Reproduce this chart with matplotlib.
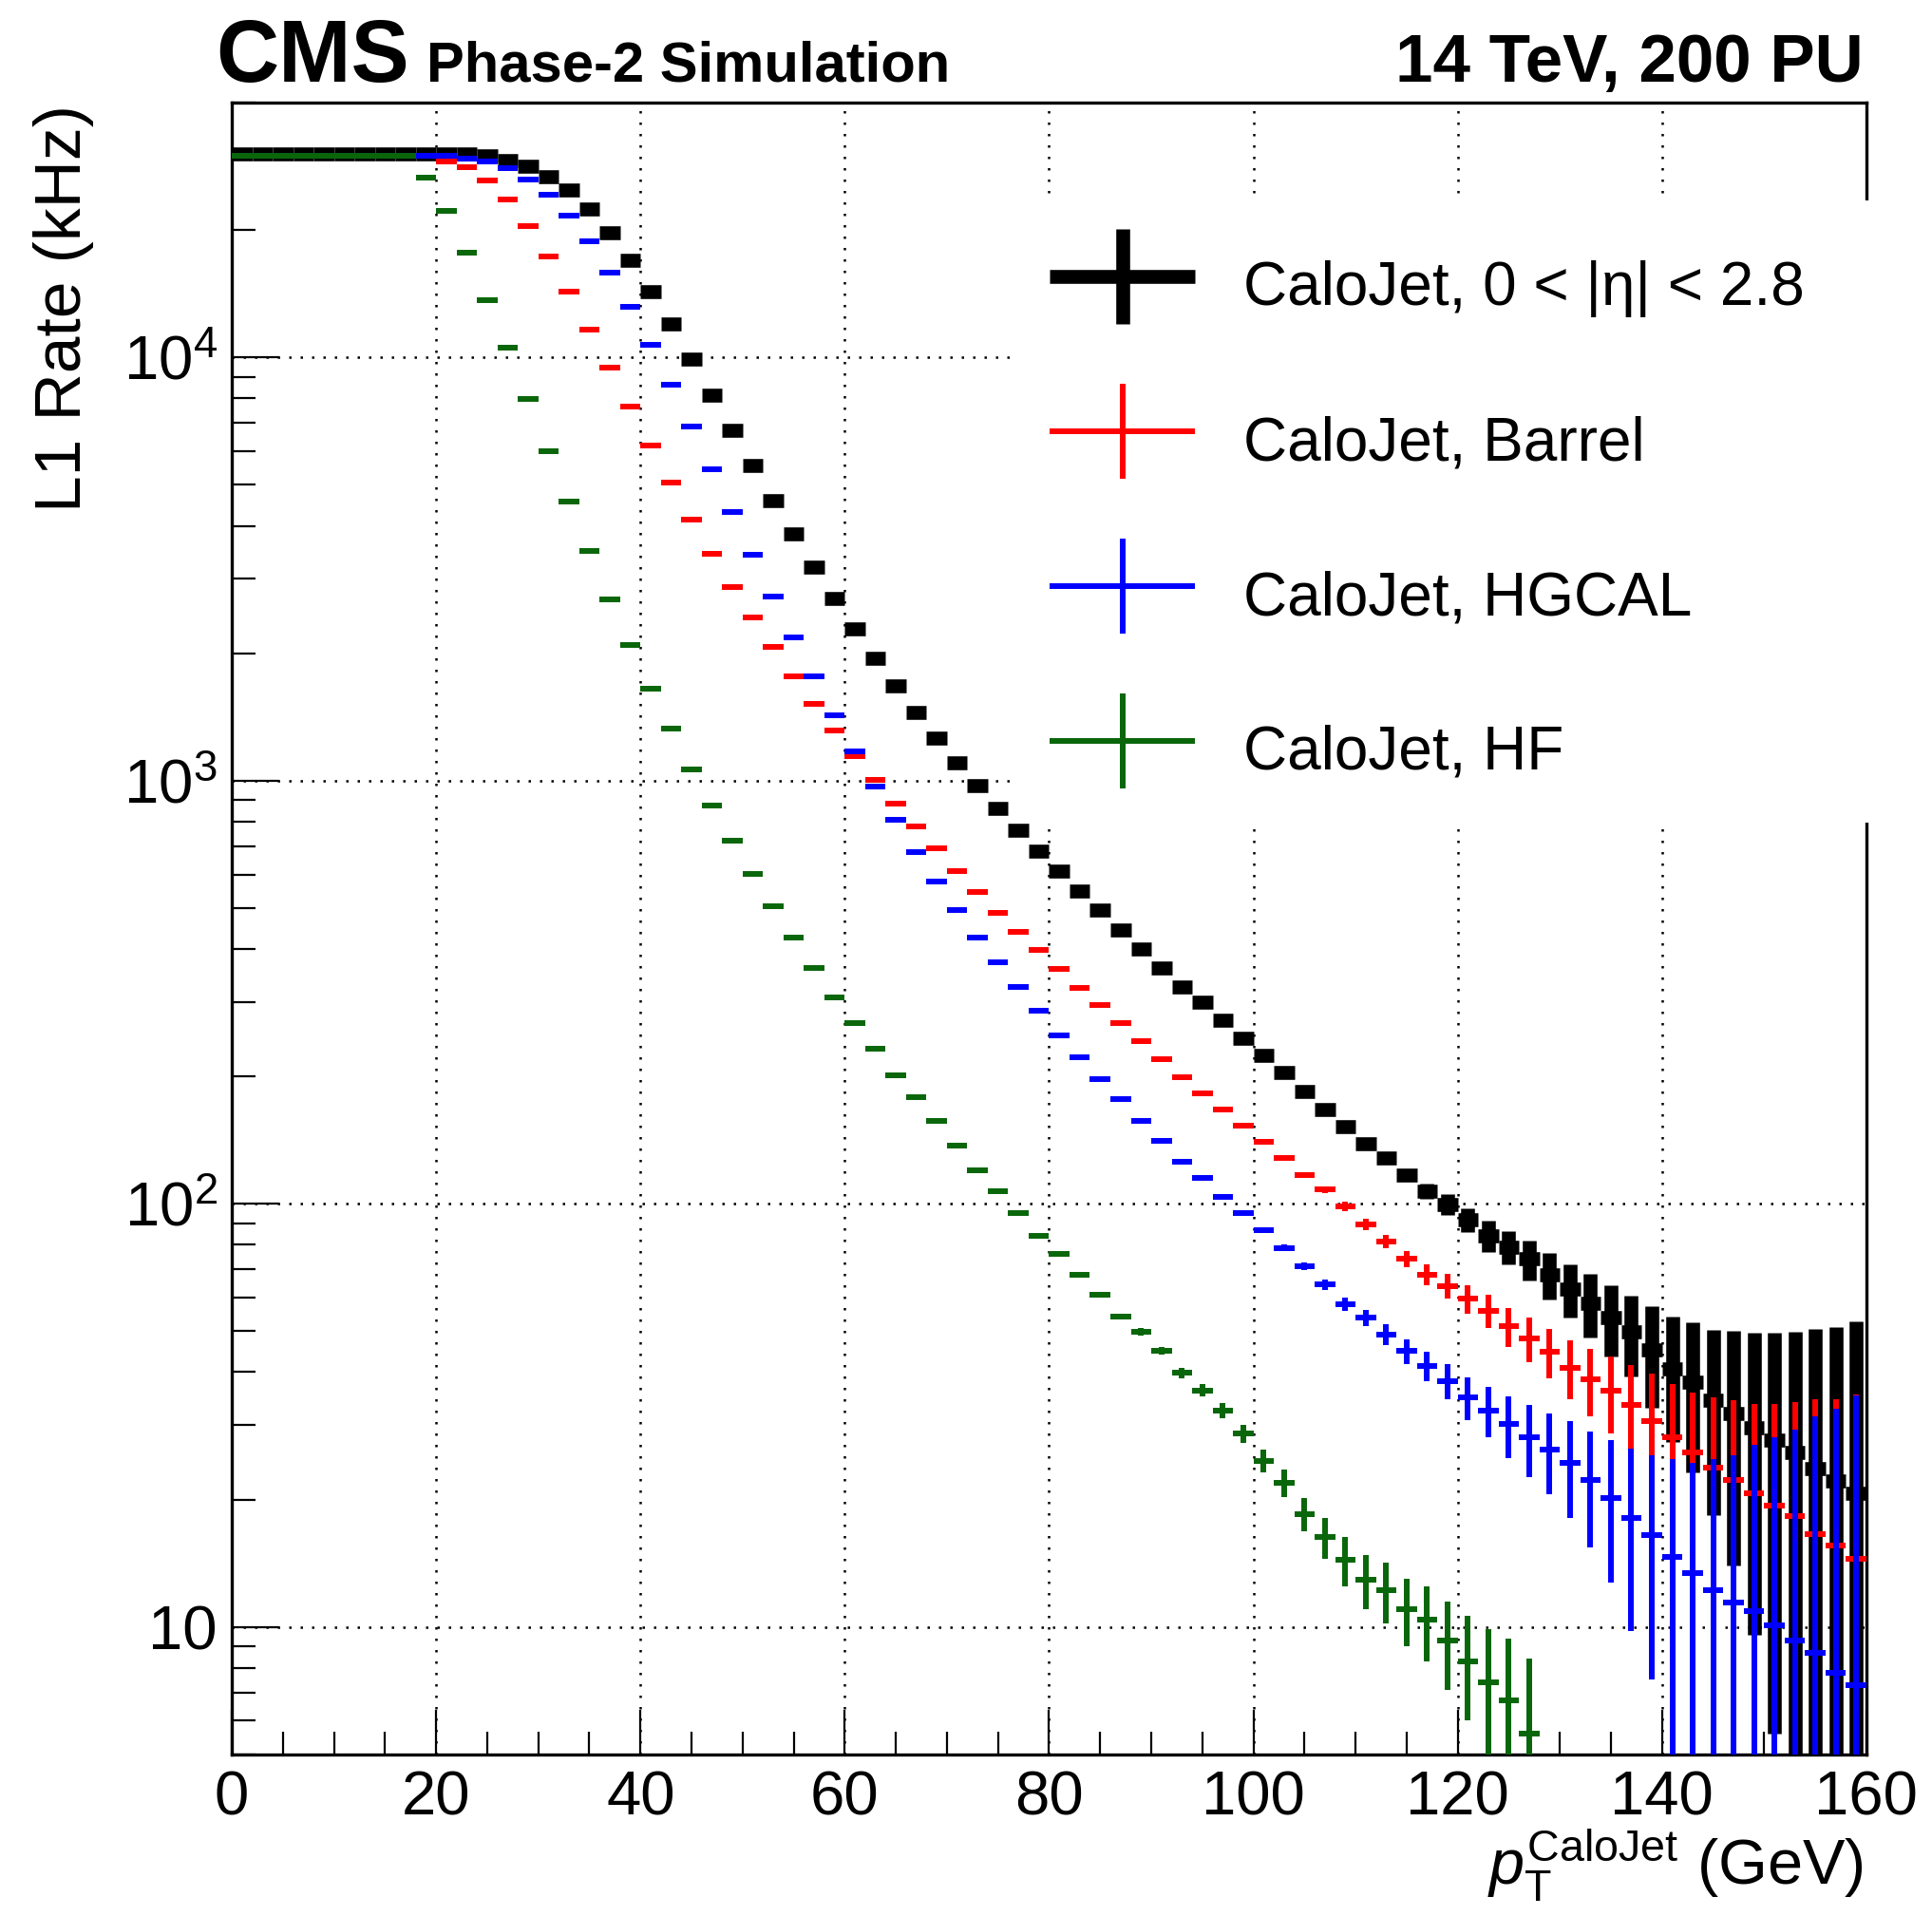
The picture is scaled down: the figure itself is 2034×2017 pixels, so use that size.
import numpy as np
import matplotlib
matplotlib.use("Agg")
import matplotlib.pyplot as plt
from matplotlib.container import ErrorbarContainer
from matplotlib.legend_handler import HandlerErrorbar
from matplotlib.patches import Rectangle
from matplotlib.ticker import FixedLocator, MultipleLocator, LogLocator, NullFormatter

plt.rcParams["font.family"] = ["Liberation Sans", "DejaVu Sans"]
plt.rcParams["mathtext.fontset"] = "custom"
plt.rcParams["mathtext.rm"] = "Liberation Sans"
plt.rcParams["mathtext.it"] = "Liberation Sans:italic"
plt.rcParams["mathtext.bf"] = "Liberation Sans:bold"

# 2 GeV bins, centres 1 ... 159 GeV
pt_centers = np.arange(1, 160, 2)
bin_half_width = 1.0

# L1 rate (kHz), one row = 10 bins
rate_all = [
    30200, 30200, 30200, 30200, 30200, 30200, 30200, 30200, 30200, 30200,
    30200, 30200, 30000, 29250, 28250, 26700, 24830, 22390, 19680, 16940,
    14320, 11980, 9930, 8165, 6730, 5550, 4590, 3820, 3195, 2690,
    2283, 1948, 1673, 1451, 1263, 1104, 971, 859, 763, 682,
    610, 549, 494, 444, 400, 361, 326, 299, 271, 246,
    224, 204, 184, 167, 152, 139, 128, 117, 107, 99.7,
    91.8, 84, 79, 74, 68, 62.8, 58.2, 53.9, 49.9, 45.2,
    40.8, 37.8, 34.4, 32, 29.6, 27.6, 25.9, 23.7, 22.1, 20.7,
]
err_all = [
    0, 0, 0, 0, 0, 0, 0, 0, 0, 0,
    0, 0, 0, 0, 0, 0, 0, 0, 0, 0,
    0, 0, 0, 0, 0, 0, 0, 0, 0, 0,
    0, 0, 0, 0, 0, 0, 0, 0, 0, 0,
    0, 0, 0, 0, 0, 0, 0, 0, 0, 0,
    1.0, 1.2, 1.5, 1.8, 2.0, 2.5, 3.0, 3.5, 4.5, 5.5,
    6.0, 7.0, 7.2, 8.0, 8.5, 9.0, 10, 10.3, 10.8, 12.2,
    13.4, 14.6, 16, 18, 20, 22, 24, 27, 29, 32,
]

rate_barrel = [
    30000, 30000, 30000, 30000, 30000, 30000, 30000, 30000, 30000, 30000,
    29100, 28130, 26160, 23590, 20470, 17290, 14320, 11650, 9460, 7640,
    6205, 5065, 4140, 3430, 2871, 2436, 2067, 1764, 1518, 1311,
    1142, 1004, 881, 778, 691, 611, 546, 488, 440, 397,
    358, 324, 295, 267, 242, 220, 199, 182, 167, 153,
    140, 128, 117, 108, 98.6, 89.4, 81.6, 74, 68, 64,
    59.6, 55.9, 51.3, 48.0, 44.6, 41.0, 38.4, 36.1, 33.5, 30.7,
    28.0, 25.8, 23.8, 22.3, 20.7, 19.3, 18.3, 16.6, 15.6, 14.5,
]
err_barrel = [
    0, 0, 0, 0, 0, 0, 0, 0, 0, 0,
    0, 0, 0, 0, 0, 0, 0, 0, 0, 0,
    0, 0, 0, 0, 0, 0, 0, 0, 0, 0,
    0, 0, 0, 0, 0, 0, 0, 0, 0, 0,
    0, 0, 0, 0, 0, 0, 0, 0, 0, 0,
    1.2, 1.5, 1.8, 2.0, 2.3, 2.6, 2.9, 3.3, 3.8, 4.2,
    4.6, 5.0, 5.4, 5.7, 6.0, 6.5, 7.0, 7.5, 8.0, 9.0,
    9.5, 10, 11, 12, 13, 14.3, 15.7, 18, 19, 21,
]

rate_hgcal = [
    30000, 30000, 30000, 30000, 30000, 30000, 30000, 30000, 30000, 30000,
    29900, 29500, 29100, 28030, 26370, 24200, 21620, 18780, 15870, 13180,
    10710, 8610, 6860, 5430, 4305, 3418, 2717, 2176, 1764, 1430,
    1174, 967, 806, 679, 578, 494, 425, 372, 326, 286,
    250, 222, 197, 177, 157, 141, 126, 115, 104, 95,
    86.4, 78.6, 71.2, 64.4, 57.8, 53.8, 49.1, 44.9, 41.3, 38.1,
    34.8, 32.5, 30.1, 28.0, 26.3, 24.4, 22.2, 20.2, 18.1, 16.5,
    14.6, 13.4, 12.2, 11.4, 10.9, 10.1, 9.3, 8.7, 7.8, 7.3,
]
err_hgcal = [
    0, 0, 0, 0, 0, 0, 0, 0, 0, 0,
    0, 0, 0, 0, 0, 0, 0, 0, 0, 0,
    0, 0, 0, 0, 0, 0, 0, 0, 0, 0,
    0, 0, 0, 0, 0, 0, 0, 0, 0, 0,
    0, 0, 0, 0, 0, 0, 0, 0, 0.8, 1.0,
    1.2, 1.4, 1.6, 1.9, 2.1, 2.4, 2.7, 3.0, 3.3, 3.6,
    4.0, 4.5, 5.0, 5.4, 5.7, 6.3, 6.8, 7.5, 8.3, 9.0,
    10.3, 11, 12.7, 14, 16, 18, 20, 22.7, 25, 28,
]

nan = np.nan
rate_hf = [
    30000, 30000, 30000, 30000, 30000, 30000, 30000, 30000, 30000, 26600,
    22220, 17720, 13630, 10530, 7990, 5995, 4570, 3490, 2680, 2088,
    1650, 1324, 1061, 871, 720, 602, 505, 425, 360, 308,
    267, 233, 201, 179, 157, 137, 120, 107, 95, 84.1,
    76.1, 68.1, 60.9, 54.1, 49.8, 44.9, 39.8, 36.2, 32.5, 28.6,
    24.7, 21.9, 18.5, 16.3, 14.4, 12.9, 12.2, 11.0, 10.4, 9.3,
    8.3, 7.4, 6.7, 5.6, nan, nan, nan, nan, nan, nan,
    nan, nan, nan, nan, nan, nan, nan, nan, nan, nan,
]
err_hf = [
    0, 0, 0, 0, 0, 0, 0, 0, 0, 0,
    0, 0, 0, 0, 0, 0, 0, 0, 0, 0,
    0, 0, 0, 0, 0, 0, 0, 0, 0, 0,
    0, 0, 0, 0, 0, 0, 0, 0, 0, 0,
    0, 0, 0, 0.8, 1.0, 1.0, 1.1, 1.2, 1.3, 1.4,
    1.5, 1.6, 1.7, 1.8, 1.9, 1.9, 2.0, 2.0, 2.1, 2.2,
    2.3, 2.5, 2.7, 2.8, nan, nan, nan, nan, nan, nan,
    nan, nan, nan, nan, nan, nan, nan, nan, nan, nan,
]

labels = ["CaloJet, 0 < |η| < 2.8", "CaloJet, Barrel", "CaloJet, HGCAL", "CaloJet, HF"]
colors = ["black", "#ff0000", "#0000ff", "#0a660a"]
widths = [10.5, 4.3, 4.3, 4.3]

fig = plt.figure(figsize=(20.34, 20.17), dpi=100)
ax = fig.add_axes([0.12, 0.0844, 0.846, 0.862])

all_rates = [rate_all, rate_barrel, rate_hgcal, rate_hf]
all_errs = [err_all, err_barrel, err_hgcal, err_hf]
for rate, err, col, lw, lab in zip(all_rates, all_errs, colors, widths, labels):
    y = np.array(rate, dtype=float)
    e = np.array(err, dtype=float)
    # log axis: keep lower bar above zero (it runs off the bottom anyway)
    lo = np.minimum(e, y - 1e-3)
    ax.errorbar(pt_centers, y, xerr=bin_half_width, yerr=[lo, e], fmt="none",
                ecolor=col, elinewidth=lw, capsize=0, label=lab, zorder=3)

ax.set_yscale("log")
ax.set_xlim(0, 160)
ax.set_ylim(5, 4e4)

ax.xaxis.set_major_locator(MultipleLocator(20))
ax.xaxis.set_minor_locator(MultipleLocator(5))
ax.yaxis.set_major_locator(FixedLocator([10, 100, 1000, 10000]))
ax.set_yticklabels(["10", "$10^{2}$", "$10^{3}$", "$10^{4}$"])
ax.yaxis.set_minor_locator(LogLocator(base=10, subs=np.arange(2, 10)))
ax.yaxis.set_minor_formatter(NullFormatter())

ax.tick_params(which="both", direction="in", top=False, right=False,
               width=1.6, color="black", labelsize=47)
ax.tick_params(axis="x", which="major", length=34, pad=12)
ax.tick_params(axis="x", which="minor", length=17)
ax.tick_params(axis="y", which="major", length=36, pad=11)
ax.tick_params(axis="y", which="minor", length=18)
for sp in ax.spines.values():
    sp.set_linewidth(2.4)

ax.set_axisbelow(True)
ax.grid(True, which="major", color="black", linestyle=(0, (1, 3.8)), linewidth=1.8)

# white legend pad, hides grid and right frame like the ROOT legend box
ax.add_patch(Rectangle((0.4776, 0.564), 0.527, 0.377, transform=ax.transAxes,
                       facecolor="white", edgecolor="none", zorder=4, clip_on=False))

leg = ax.legend(loc="upper left", bbox_to_anchor=(0.5003, 0.912), frameon=False,
                fontsize=46, handlelength=2.4, handleheight=1.5, handletextpad=0.8,
                labelspacing=1.33, borderpad=0, borderaxespad=0,
                handler_map={ErrorbarContainer: HandlerErrorbar(xerr_size=1.2, yerr_size=0.78)})
leg.set_zorder(5)

fig.text(0.1116, 0.9574, "CMS", fontsize=66, fontweight="bold", va="baseline")
fig.text(0.2207, 0.9574, "Phase-2 Simulation", fontsize=43, fontweight="bold", va="baseline")
fig.text(0.9646, 0.9574, "14 TeV, 200 PU", fontsize=51, fontweight="bold",
         ha="right", va="baseline")
fig.text(0.033, 0.9455, "L1 Rate (kHz)", fontsize=50, rotation=90, ha="center", va="top")
fig.text(0.9646, 0.0164, r"$p_{\mathrm{T}}^{\mathrm{CaloJet}}$ (GeV)", fontsize=48,
         ha="right", va="baseline")

fig.savefig("out.png", dpi=100, facecolor="white")
